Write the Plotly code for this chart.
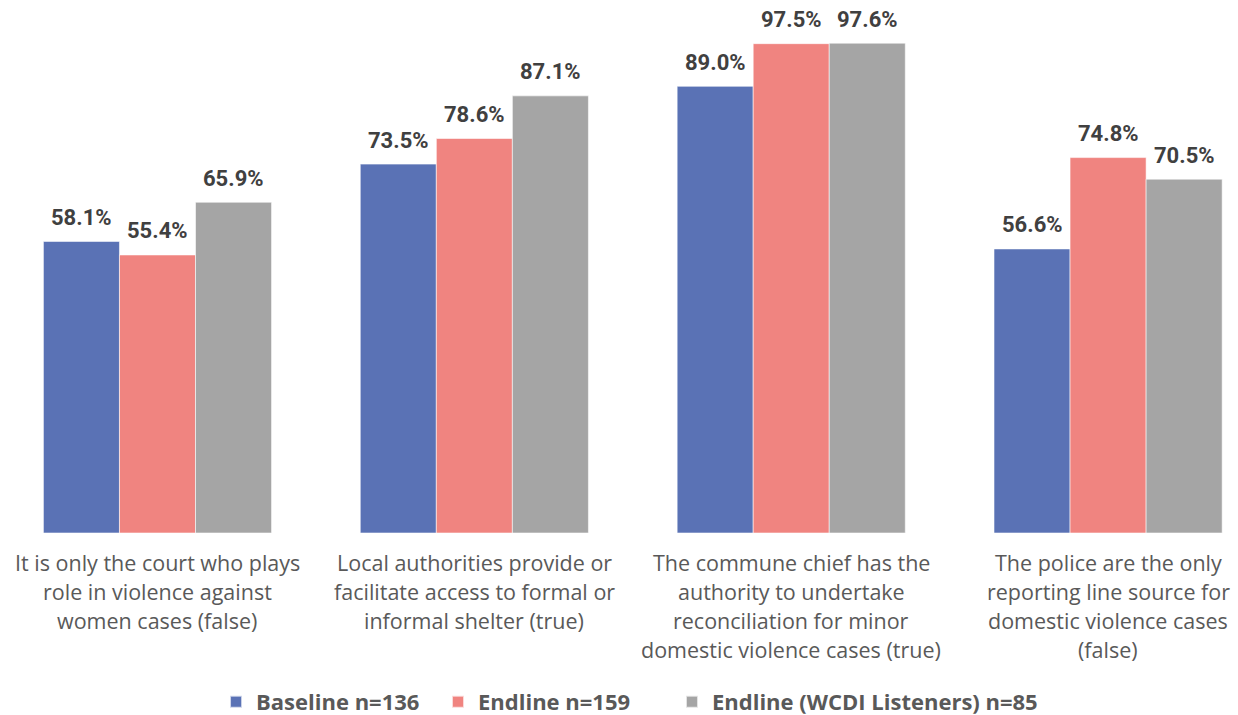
import plotly.graph_objects as go

categories = [
    ["It is only the court who plays", "role in violence against", "women cases (false)"],
    ["Local authorities provide or", "facilitate access to formal or", "informal shelter (true)"],
    ["The commune chief has the", "authority to undertake", "reconciliation for minor", "domestic violence cases (true)"],
    ["The police are the only", "reporting line source for", "domestic violence cases", "(false)"],
]
series_names = ["Baseline n=136", "Endline n=159", "Endline (WCDI Listeners) n=85"]
baseline = [58.1, 73.5, 89.0, 56.6]
endline = [55.4, 78.6, 97.5, 74.8]
listeners = [65.9, 87.1, 97.6, 70.5]
colors = ["#5A72B5", "#F08480", "#A5A5A5"]
legend_ids = ["legend", "legend2", "legend3"]
legend_x = [0.1745, 0.3538, 0.5428]

series_values = [baseline, endline, listeners]
x_idx = list(range(len(categories)))
bargap = 0.28
bar_w = (1 - bargap) / len(series_values)

fig = go.Figure()
for name, vals, col, lg in zip(series_names, series_values, colors, legend_ids):
    fig.add_trace(go.Bar(
        x=x_idx, y=vals, name=name, legend=lg,
        marker=dict(color=col, line=dict(color="rgba(255,255,255,0.7)", width=0.8)),
        hoverinfo="skip",
    ))

annotations = []
for k, vals in enumerate(series_values):
    off = (k - (len(series_values) - 1) / 2) * bar_w
    for j, v in enumerate(vals):
        annotations.append(dict(
            x=j + off, y=v, xref="x", yref="y", text=f"<b>{v:.1f}%</b>",
            showarrow=False, yshift=24, yanchor="middle",
            font=dict(family="Roboto, Arial, sans-serif", size=22, color="#404040"),
        ))

for j, lines in enumerate(categories):
    for i, line in enumerate(lines):
        annotations.append(dict(
            x=j, y=0, xref="x", yref="paper", text=line, showarrow=False,
            yanchor="middle", yshift=-(29 + 29.3 * i),
            font=dict(family="Open Sans, Roboto, sans-serif", size=21.5, color="#595959"),
        ))

legend_font = dict(family="Open Sans, Roboto, sans-serif", size=22, color="#595959", weight="bold")
legend_layout = {}
for lg, lx in zip(legend_ids, legend_x):
    legend_layout[lg] = dict(orientation="h", x=lx, xanchor="left", y=-0.317, yanchor="middle",
                             font=legend_font, itemsizing="constant", bgcolor="rgba(0,0,0,0)")

fig.update_layout(
    width=1238, height=715,
    margin=dict(l=0, r=0, t=0, b=182, autoexpand=False),
    paper_bgcolor="white", plot_bgcolor="white",
    barmode="group", bargap=bargap, bargroupgap=0,
    xaxis=dict(range=[-0.497, 3.41], showticklabels=False, showgrid=False,
               zeroline=False, showline=False, ticks="", fixedrange=True),
    yaxis=dict(range=[0, 106.2], visible=False, showgrid=False, zeroline=False),
    showlegend=True,
    annotations=annotations,
    **legend_layout,
)

fig.write_html("out.html")
